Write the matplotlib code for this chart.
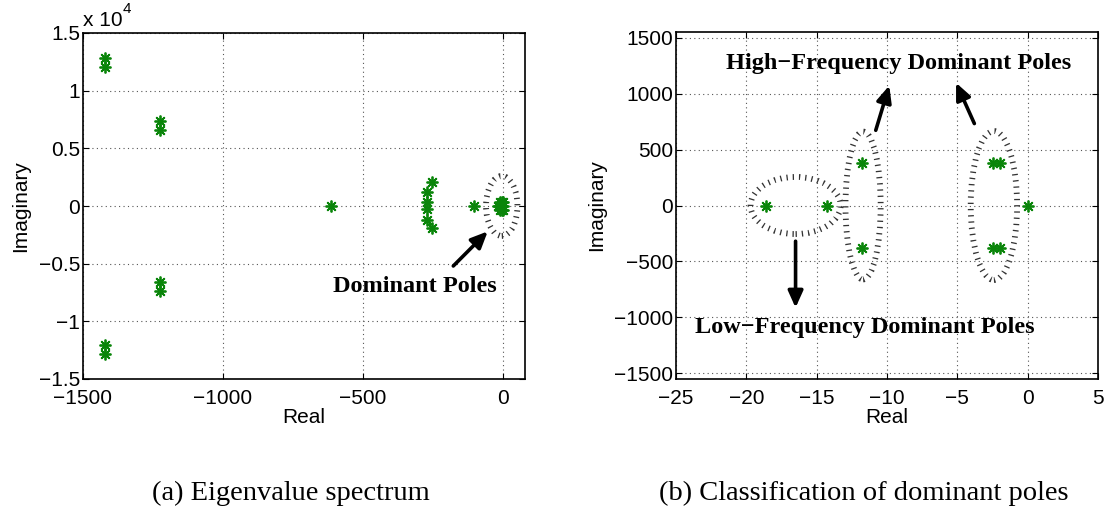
import matplotlib.pyplot as plt
import numpy as np
from matplotlib.patches import Ellipse
from matplotlib.ticker import FuncFormatter

plt.rcParams['font.family'] = ['Liberation Sans', 'DejaVu Sans']
plt.rcParams['axes.unicode_minus'] = True

# full eigenvalue spectrum (real, imag)
spec_re = [-1421, -1421, -1421, -1421, -1225, -1225, -1225, -1225,
           -614, -255, -273, -273, -273, -273, -255, -104]
spec_im = [12800, 12050, -12050, -12800, 7350, 6600, -6600, -7350,
           0, 2050, 1250, 380, -280, -1200, -1950, 0]

# dominant poles (real, imag)
dom_re = [-18.6, -14.3, -11.8, -11.8, -2.5, -2.5, -1.95, -1.95, 0.0]
dom_im = [0, 0, 380, -380, 380, -380, 380, -380, 0]

GREEN = '#0a850a'
STAR = (8, 2, 0)
SERIF = ['Liberation Serif', 'DejaVu Serif']
ARROW = dict(arrowstyle='-|>,head_length=1.0,head_width=0.45',
             color='black', lw=2.6, shrinkA=0, shrinkB=0)


def style_axes(ax):
    ax.grid(True, linestyle=(0, (1, 3)), color='#555555', linewidth=0.8)
    ax.tick_params(direction='in', top=True, right=True, length=4,
                   labelsize=15)
    ax.tick_params(axis='x', pad=7)
    ax.tick_params(axis='y', pad=2)
    for s in ax.spines.values():
        s.set_linewidth(1.2)
    ax.set_xlabel('Real', fontsize=15, labelpad=0)
    ax.set_ylabel('Imaginary', fontsize=15, labelpad=6)


def ring(ax, cx, cy, w, h):
    # broken outline made of short marks across the curve
    e = Ellipse((cx, cy), w, h, fill=False, edgecolor='#333333',
                linewidth=4.2, linestyle=(0, (0.22, 0.85)))
    e.set_capstyle('butt')
    ax.add_patch(e)


fig = plt.figure(figsize=(11.07, 5.09), dpi=100)
ax1 = fig.add_axes([83 / 1107, 1 - 379 / 509, 442 / 1107, 346 / 509])
ax2 = fig.add_axes([676 / 1107, 1 - 379 / 509, 422 / 1107, 347 / 509])

# (a) eigenvalue spectrum
ax1.plot(spec_re + dom_re, spec_im + dom_im, linestyle='none', marker=STAR,
         markersize=8.5, color=GREEN, markeredgewidth=1.3)
ax1.set_xlim(-1500, 78)
ax1.set_ylim(-15000, 15000)
ax1.set_xticks([-1500, -1000, -500, 0])
ax1.set_yticks(np.arange(-15000, 15001, 5000))
ax1.yaxis.set_major_formatter(FuncFormatter(
    lambda v, p: ('%g' % (v / 1e4)).replace('-', '\u2212')))
style_axes(ax1)
ax1.text(0.0, 1.008, 'x 10', transform=ax1.transAxes, fontsize=15,
         ha='left', va='bottom')
ax1.text(0.09, 1.05, '4', transform=ax1.transAxes, fontsize=11,
         ha='left', va='bottom')
ring(ax1, -5, 0, 112, 5200)
ax1.annotate('', xy=(-55, -2200), xytext=(-178, -5200), arrowprops=ARROW)
ax1.text(-315, -7000, 'Dominant Poles', family=SERIF, fontweight='bold',
         fontsize=17.5, ha='center', va='center')

# (b) classification of dominant poles
ax2.plot(dom_re, dom_im, linestyle='none', marker=STAR, markersize=8.5,
         color=GREEN, markeredgewidth=1.3)
ax2.set_xlim(-25, 5)
ax2.set_ylim(-1550, 1550)
ax2.set_xticks(np.arange(-25, 6, 5))
ax2.set_yticks(np.arange(-1500, 1501, 500))
style_axes(ax2)
ring(ax2, -16.5, 0, 6.4, 510)
ring(ax2, -11.7, 0, 2.5, 1320)
ring(ax2, -2.4, 0, 3.3, 1330)
ax2.annotate('', xy=(-16.5, -913), xytext=(-16.5, -319), arrowprops=ARROW)
ax2.annotate('', xy=(-9.84, 1071), xytext=(-10.8, 672), arrowprops=ARROW)
ax2.annotate('', xy=(-5.09, 1096), xytext=(-3.79, 732), arrowprops=ARROW)
ax2.text(-9.2, 1268, 'High\u2212Frequency Dominant Poles', family=SERIF,
         fontweight='bold', fontsize=17.5, ha='center', va='center')
ax2.text(-11.6, -1087, 'Low\u2212Frequency Dominant Poles', family=SERIF,
         fontweight='bold', fontsize=17.5, ha='center', va='center')

fig.text(291 / 1107, 1 - 493 / 509, '(a) Eigenvalue spectrum', family=SERIF,
         fontsize=20.5, ha='center', va='center')
fig.text(864 / 1107, 1 - 493 / 509, '(b) Classification of dominant poles',
         family=SERIF, fontsize=20.5, ha='center', va='center')

fig.savefig('out.png', dpi=100)
